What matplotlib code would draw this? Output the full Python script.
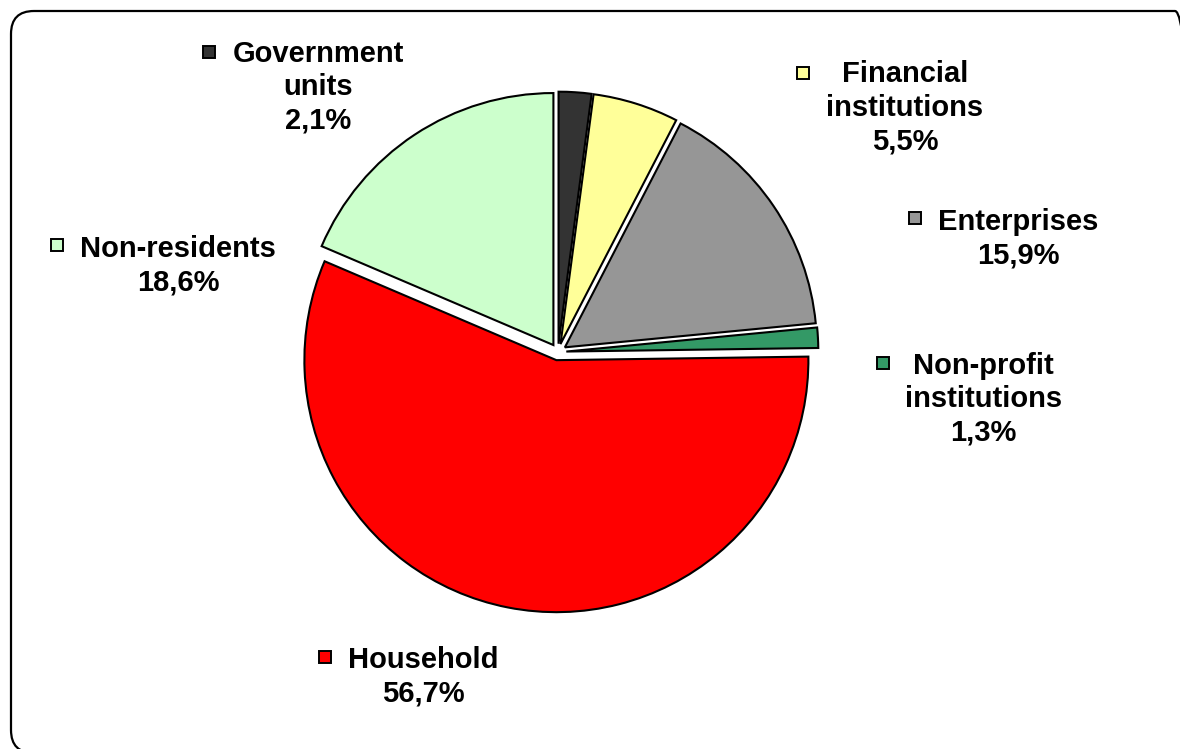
import matplotlib
matplotlib.use("Agg")
import matplotlib.pyplot as plt
from matplotlib.patches import FancyBboxPatch

# sector shares (%), clockwise from 12 o'clock
sectors = ["Government\nunits", "Financial\ninstitutions", "Enterprises",
           "Non-profit\ninstitutions", "Household", "Non-residents"]
shares = [2.1, 5.5, 15.9, 1.3, 56.7, 18.6]
colors = ["#333333", "#FFFF99", "#969696", "#339966", "#FF0000", "#CCFFCC"]

# label block centres and legend-key squares (pie radius units)
label_xy = [(-0.952, 1.05), (1.377, 0.970), (1.825, 0.448),
            (1.687, -0.188), (-0.536, -1.288), (-1.508, 0.343)]
key_xy = [(-1.385, 1.190), (0.972, 1.107), (1.417, 0.532),
          (1.290, -0.044), (-0.925, -1.210), (-1.988, 0.425)]

W, H = 1180, 749
CX, CY, R = 558, 352, 252          # pie centre / radius in pixels

fig = plt.figure(figsize=(W / 100, H / 100), dpi=100)
ax = fig.add_axes([0, 0, 1, 1])

ax.pie(shares, colors=colors, startangle=90, counterclock=False,
       explode=[0.033] * len(shares),
       wedgeprops=dict(edgecolor="black", linewidth=1.5))

ax.set_aspect("auto")
ax.set_xlim(-CX / R, (W - CX) / R)
ax.set_ylim((CY - H) / R, CY / R)
ax.axis("off")

font = dict(family=["Liberation Sans", "DejaVu Sans"], fontsize=21,
            fontweight="bold")
for name, val, (tx, ty), (kx, ky), c in zip(sectors, shares, label_xy,
                                           key_xy, colors):
    txt = f"{name}\n{val:.1f}%".replace(".", ",")
    ax.text(tx, ty, txt, ha="center", va="center", linespacing=1.25, **font)
    ax.plot(kx, ky, marker="s", ms=9, mfc=c, mec="black", mew=1.4,
            clip_on=False)

# rounded chart-area border, running slightly off the right/bottom edges
x0, y0, x1, y1 = 11, 11, 1198, 753
frame = FancyBboxPatch((x0 / W, 1 - y1 / H), (x1 - x0) / W, (y1 - y0) / H,
                       boxstyle=f"round,pad=0,rounding_size={23 / W}",
                       transform=fig.transFigure, fill=False,
                       edgecolor="black", linewidth=1.6,
                       mutation_aspect=W / H)
fig.add_artist(frame)

fig.savefig("out.png", dpi=100, facecolor="white")
